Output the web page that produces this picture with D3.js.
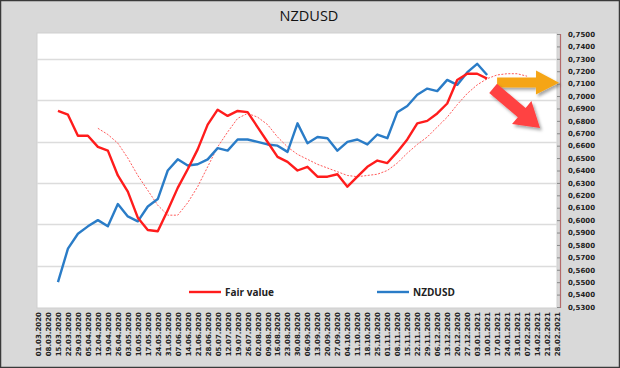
<!DOCTYPE html>
<html><head><meta charset="utf-8">
<script src="https://cdn.jsdelivr.net/npm/d3@7"></script>
<style>html,body{margin:0;padding:0;background:#fff}svg{display:block}</style>
</head><body>
<script>
const categories = ["01.03.2020","08.03.2020","15.03.2020","22.03.2020","29.03.2020","05.04.2020","12.04.2020","19.04.2020","26.04.2020","03.05.2020","10.05.2020","17.05.2020","24.05.2020","31.05.2020","07.06.2020","14.06.2020","21.06.2020","28.06.2020","05.07.2020","12.07.2020","19.07.2020","26.07.2020","02.08.2020","09.08.2020","16.08.2020","23.08.2020","30.08.2020","06.09.2020","13.09.2020","20.09.2020","27.09.2020","04.10.2020","11.10.2020","18.10.2020","25.10.2020","01.11.2020","08.11.2020","15.11.2020","22.11.2020","29.11.2020","06.12.2020","13.12.2020","20.12.2020","27.12.2020","03.01.2021","10.01.2021","17.01.2021","24.01.2021","31.01.2021","07.02.2021","14.02.2021","21.02.2021","28.02.2021"];
const fairValue = [null,null,0.688,0.685,0.668,0.668,0.659,0.656,0.636,0.623,0.602,0.592,0.591,0.608,0.626,0.641,0.657,0.677,0.689,0.684,0.688,0.687,0.675,0.663,0.651,0.647,0.640,0.643,0.635,0.635,0.637,0.627,0.635,0.643,0.648,0.646,0.655,0.665,0.678,0.680,0.686,0.694,0.713,0.718,0.718,0.714,null,null,null,null,null,null,null];
const nzdusd = [null,null,0.550,0.577,0.589,0.595,0.600,0.595,0.613,0.603,0.599,0.611,0.617,0.640,0.649,0.644,0.645,0.649,0.658,0.656,0.665,0.665,0.663,0.661,0.660,0.655,0.678,0.662,0.667,0.666,0.656,0.663,0.665,0.661,0.669,0.666,0.687,0.692,0.701,0.706,0.704,0.713,0.709,0.719,0.726,0.717,null,null,null,null,null,null,null];
const fairValueAvg = [null,null,null,null,null,null,0.674,0.669,0.662,0.650,0.636,0.624,0.612,0.604,0.604,0.614,0.627,0.643,0.659,0.671,0.682,0.686,0.683,0.677,0.667,0.659,0.653,0.649,0.645,0.642,0.639,0.636,0.635,0.636,0.637,0.640,0.646,0.654,0.661,0.667,0.675,0.683,0.693,0.702,0.709,0.714,0.717,0.718,0.718,0.716,null,null,null];
const yTickValues = d3.range(53, 76).map(d => d / 100);
const gridValues = [0.5633,0.5967,0.63,0.6633,0.6967,0.73];
const seriesNames = ["Fair value","NZDUSD"];
// annotation arrows: [categoryIndex, value]
const arrowFlat = {from:[46.0,0.7110], to:[52.2,0.7108]};
const arrowDown = {from:[45.6,0.7062], to:[50.3,0.6742]};

const W = 620, H = 368;
const svg = d3.select("body").append("svg").attr("width", W).attr("height", H);
svg.append("rect").attr("x",0.5).attr("y",0.5).attr("width",W-1).attr("height",H-1)
  .attr("fill","#d9d9d9").attr("stroke","#3a3a3a").attr("stroke-width",1.5);

const plot = {l:37, t:33, r:557, b:308};
svg.append("rect").attr("x",plot.l).attr("y",plot.t).attr("width",plot.r-plot.l).attr("height",plot.b-plot.t)
  .attr("fill","#fff").attr("stroke","#cfcfcf").attr("stroke-width",1);

const x = d3.scalePoint(categories, [38, 557]);
const xi = d3.scaleLinear([0, categories.length-1], [38, 557]);
const y = d3.scaleLinear([0.53, 0.75], [307, 34]);

svg.append("g").selectAll("line").data(gridValues).join("line")
  .attr("x1",plot.l).attr("x2",plot.r).attr("y1",d=>Math.round(y(d))+0.5).attr("y2",d=>Math.round(y(d))+0.5)
  .attr("stroke","#dcdcdc").attr("stroke-width",1.5);

svg.append("text").attr("x",309).attr("y",21).attr("text-anchor","middle")
  .attr("font-family","'Open Sans',sans-serif").attr("font-size",14.5).attr("fill","#111").text("NZDUSD");

// y axis right
const yAxis = d3.axisRight(y).tickValues(yTickValues).tickSize(-3).tickPadding(10)
  .tickFormat(d => d3.format(".4f")(d).replace(".", ","));
const gy = svg.append("g").attr("transform","translate(560,0)").call(yAxis);
gy.select(".domain").attr("stroke","#b46a6a").attr("stroke-width",1.2);
gy.selectAll(".tick line").attr("stroke","#888");
gy.selectAll(".tick text").attr("font-family","'DejaVu Sans',sans-serif").attr("font-weight","bold")
  .attr("font-size",7).attr("fill","#222").attr("x",8);

// x axis labels
const xAxis = d3.axisBottom(x).tickSize(0).tickPadding(0);
const gx = svg.append("g").attr("transform","translate(0,312)").call(xAxis);
gx.select(".domain").remove();
gx.selectAll(".tick text").attr("transform","rotate(-90)").attr("text-anchor","end")
  .attr("x",0).attr("y",0).attr("dy","0.35em").attr("dx",0)
  .attr("font-family","'DejaVu Sans',sans-serif").attr("font-weight","bold").attr("font-size",7).attr("fill","#222");

// lines
const line = d3.line().defined(d => d[1] != null).x(d => x(d[0])).y(d => y(d[1]));
const toPts = arr => categories.map((c,i) => [c, arr[i]]);
svg.append("path").attr("d", line(toPts(fairValueAvg))).attr("fill","none")
  .attr("stroke","#ff5a5a").attr("stroke-width",1).attr("stroke-dasharray","2,1.5");
svg.append("path").attr("d", line(toPts(nzdusd))).attr("fill","none")
  .attr("stroke","#2a7cc7").attr("stroke-width",2.4).attr("stroke-linejoin","round");
svg.append("path").attr("d", line(toPts(fairValue))).attr("fill","none")
  .attr("stroke","#ff1c1c").attr("stroke-width",2.4).attr("stroke-linejoin","round");

// arrows
function arrowPath(a, shaft, headW, headL) {
  const x0 = xi(a.from[0]), y0 = y(a.from[1]), x1 = xi(a.to[0]), y1 = y(a.to[1]);
  const dx = x1-x0, dy = y1-y0, len = Math.hypot(dx,dy);
  const ux = dx/len, uy = dy/len, nx = -uy, ny = ux;
  const bx = x1-ux*headL, by = y1-uy*headL;
  const p = [[x0+nx*shaft/2, y0+ny*shaft/2],[bx+nx*shaft/2, by+ny*shaft/2],[bx+nx*headW/2, by+ny*headW/2],
    [x1,y1],[bx-nx*headW/2, by-ny*headW/2],[bx-nx*shaft/2, by-ny*shaft/2],[x0-nx*shaft/2, y0-ny*shaft/2]];
  return "M" + p.map(q => q.join(",")).join("L") + "Z";
}
const defs = svg.append("defs");
const f = defs.append("filter").attr("id","sh").attr("x","-20%").attr("y","-20%").attr("width","150%").attr("height","150%");
f.append("feDropShadow").attr("dx",2).attr("dy",2.5).attr("stdDeviation",1.5).attr("flood-color","#000").attr("flood-opacity",0.35);
svg.append("path").attr("d", arrowPath(arrowFlat, 10, 24, 23)).attr("fill","#f5a514").attr("filter","url(#sh)").attr("stroke-linejoin","round");
svg.append("path").attr("d", arrowPath(arrowDown, 12, 30, 24)).attr("fill","#ff4242").attr("filter","url(#sh)");

// legend
const legend = [{name:seriesNames[0], color:"#ff1c1c", x:189},{name:seriesNames[1], color:"#2a7cc7", x:377}];
const lg = svg.append("g").selectAll("g").data(legend).join("g").attr("transform", d => `translate(${d.x},292)`);
lg.append("line").attr("x1",0).attr("x2",32).attr("y1",0).attr("y2",0).attr("stroke",d=>d.color).attr("stroke-width",2.4);
lg.append("text").attr("x",36).attr("y",4).attr("font-family","'Open Sans',sans-serif").attr("font-weight","bold")
  .attr("font-size",10).attr("fill","#222").text(d=>d.name);
</script>
</body></html>
